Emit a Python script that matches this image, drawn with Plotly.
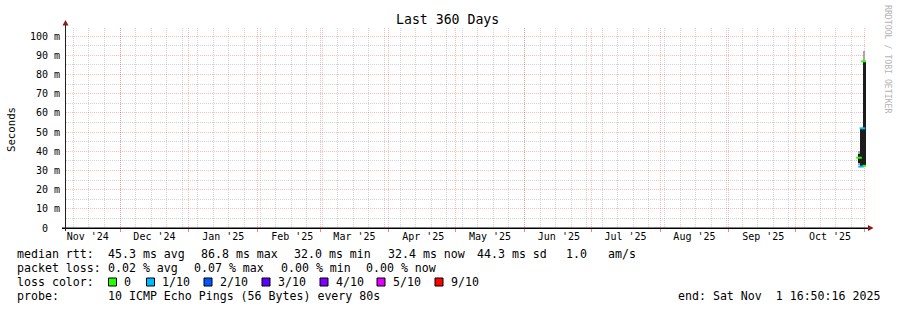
import pandas as pd
import plotly.graph_objects as go

# ---------------- data ----------------
start_time = "2024-11-06 16:50:16"
end_time = "2025-11-01 16:50:16"

sample_times = ["2025-10-29 13:00", "2025-10-30 11:00", "2025-10-31 03:00",
                "2025-10-31 19:00", "2025-11-01 11:30"]
smoke_outer_low = [32.8, 32.0, 32.0, 32.5, 32.4]
smoke_outer_high = [40.0, 52.0, 52.0, 92.0, 87.0]
smoke_inner_low = [34.0, 32.0, 32.0, 33.0, 32.5]
smoke_inner_high = [38.5, 52.0, 52.0, 86.8, 86.8]
median_rtt = [36.6, 32.0, 51.9, 86.8, 32.4]
loss_index = [0, 1, 1, 0, 0]

loss_labels = ["0", "1/10", "2/10", "3/10", "4/10", "5/10", "9/10"]
loss_colors = ["#26ff00", "#00b8ff", "#0059ff", "#5e00ff", "#7e00ff", "#dd00ff", "#ff0000"]

y_tick_values = [0, 10, 20, 30, 40, 50, 60, 70, 80, 90, 100]
y_tick_labels = ["0  ", "10 m", "20 m", "30 m", "40 m", "50 m",
                 "60 m", "70 m", "80 m", "90 m", "100 m"]
y_minor_values = [5, 15, 25, 35, 45, 55, 65, 75, 85, 95]

median_stats = ["median rtt:", "45.3 ms avg", "86.8 ms max", "32.0 ms min",
                "32.4 ms now", "44.3 ms sd", "1.0", "am/s"]
loss_stats = ["packet loss:", "0.02 % avg", "0.07 % max", "0.00 % min", "0.00 % now"]
probe_text = ["probe:", "10 ICMP Echo Pings (56 Bytes) every 80s"]
end_text = "end: Sat Nov  1 16:50:16 2025"
title_text = "Last 360 Days"

# ---------------- geometry helpers ----------------
W, H = 897, 310
L, R, T, B = 66, 866, 28, 228
Y_MAX = 100 * (B - T) / 192.0


def px(x):
    return (x - L) / (R - L)


def py(y):
    return (B - y) / (B - T)


MONO = "DejaVu Sans Mono"

month_starts = pd.date_range("2024-12-01", "2025-11-01", freq="MS")
label_months = pd.date_range("2024-11-01", "2025-10-01", freq="MS")
label_pos = label_months + pd.Timedelta(hours=15 * 24 + 12)
label_text = [d.strftime("%b '%y") for d in label_months]
week_lines = pd.date_range("2024-11-10", "2025-10-26", freq="W-SUN")

bar_w = 0.62 * 86400000

fig = go.Figure()
fig.add_bar(x=sample_times,
            y=[h - l for h, l in zip(smoke_outer_high, smoke_outer_low)],
            base=smoke_outer_low, width=[bar_w] * len(sample_times),
            marker=dict(color="#a8a8a8", line=dict(width=0)), hoverinfo="skip")
fig.add_bar(x=sample_times,
            y=[h - l for h, l in zip(smoke_inner_high, smoke_inner_low)],
            base=smoke_inner_low, width=[bar_w] * len(sample_times),
            marker=dict(color="#1c1c1c", line=dict(width=0)), hoverinfo="skip")
fig.add_scatter(x=sample_times, y=median_rtt, mode="markers",
                marker=dict(symbol="line-ew", size=4,
                            line=dict(width=2, color=[loss_colors[i] for i in loss_index])),
                hoverinfo="skip")
fig.add_scatter(x=[end_time], y=[0], xaxis="x2", mode="markers",
                marker=dict(opacity=0, color="white"), hoverinfo="skip")

major_grid = "rgba(255,0,0,0.27)"
minor_grid = "rgba(150,150,150,0.42)"

fig.update_layout(
    width=W, height=H,
    margin=dict(l=L, r=W - R, t=T, b=H - B),
    paper_bgcolor="white", plot_bgcolor="white",
    showlegend=False, barmode="overlay", bargap=0,
    xaxis=dict(type="date", range=[start_time, end_time],
               tickmode="array", tickvals=list(label_pos), ticktext=label_text,
               showgrid=False, zeroline=False, showline=False, ticks="",
               tickfont=dict(family=MONO, size=10, color="#000000"),
               ticklabelstandoff=1, fixedrange=True,
               minor=dict(tickmode="array", tickvals=list(week_lines), showgrid=True,
                          gridcolor=minor_grid, gridwidth=1, griddash="1px,1px", ticks="")),
    xaxis2=dict(type="date", range=[start_time, end_time], overlaying="x", side="bottom",
                tickmode="array", tickvals=list(month_starts), showticklabels=False,
                showgrid=True, gridcolor=major_grid, gridwidth=1, griddash="1px,1px",
                ticks="outside", ticklen=3, tickcolor="rgba(255,0,0,0.5)",
                zeroline=False, showline=False, fixedrange=True),
    yaxis=dict(range=[0, Y_MAX], tickmode="array", tickvals=y_tick_values,
               showticklabels=False, showgrid=True, gridcolor=major_grid, gridwidth=1,
               griddash="1px,1px", zeroline=False, showline=False, ticks="",
               fixedrange=True,
               minor=dict(tickmode="array", tickvals=y_minor_values, showgrid=True,
                          gridcolor=minor_grid, gridwidth=1, griddash="1px,1px", ticks="")),
)

shapes = [
    # x axis line
    dict(type="rect", xref="paper", yref="paper", x0=px(62), x1=px(869), y0=py(229), y1=py(227.5),
         fillcolor="black", line=dict(width=0)),
    # y axis line
    dict(type="rect", xref="paper", yref="paper", x0=px(65), x1=px(66), y0=py(231), y1=py(24),
         fillcolor="#202020", line=dict(width=0)),
    # arrows
    dict(type="path", xref="paper", yref="paper",
         path=f"M {px(62.5)} {py(25.5)} L {px(68.5)} {py(25.5)} L {px(65.5)} {py(20)} Z",
         fillcolor="#8b1a1a", line=dict(width=0)),
    dict(type="path", xref="paper", yref="paper",
         path=f"M {px(868)} {py(225)} L {px(868)} {py(231)} L {px(873.5)} {py(228)} Z",
         fillcolor="#8b1a1a", line=dict(width=0)),
]

annotations = []


def add_text(x, y, text, size=11.6, anchor="left", color="black", angle=0, yanchor="middle"):
    annotations.append(dict(xref="paper", yref="paper", x=px(x), y=py(y),
                            text=text.replace(" ", "\u00a0"), showarrow=False,
                            xanchor=anchor, yanchor=yanchor, textangle=angle,
                            borderpad=0,
                            font=dict(family=MONO, size=size, color=color)))


# y tick labels, placed through the y axis scale
for v, lab in zip(y_tick_values, y_tick_labels):
    annotations.append(dict(xref="paper", yref="y", x=px(60.5), y=v,
                            text=lab.replace(" ", "\u00a0"), showarrow=False,
                            xanchor="right", yanchor="middle", borderpad=0,
                            font=dict(family=MONO, size=10, color="black")))

add_text(447.5, 19.5, title_text, size=13.2, anchor="center")
add_text(11, 129, "Seconds", size=10.7, anchor="center", angle=-90)
add_text(888, 59, "RRDTOOL / TOBI OETIKER", size=8.2, anchor="center", angle=90, color="#b4b4b4")

# legend rows
median_x = [16, 107, 200, 293, 386.5, 475.5, 565, 607]
for xx, t in zip(median_x, median_stats):
    add_text(xx, 254, t)
loss_x = [16, 107, 193, 279.5, 365]
for xx, t in zip(loss_x, loss_stats):
    add_text(xx, 268, t)
add_text(16, 282, "loss color:")
square_x = [108.5, 146.5, 204, 262, 320, 377, 435]
for xx, lab, col in zip(square_x, loss_labels, loss_colors):
    shapes.append(dict(type="rect", xref="paper", yref="paper",
                       x0=px(xx), x1=px(xx + 8), y0=py(286), y1=py(278),
                       fillcolor=col, line=dict(color="black", width=1)))
    add_text(xx + 14.5, 282, lab)
add_text(16, 296, probe_text[0])
add_text(107, 296, probe_text[1])
add_text(881, 296, end_text, anchor="right")

fig.update_layout(shapes=shapes, annotations=annotations)
fig.write_html("out.html")
